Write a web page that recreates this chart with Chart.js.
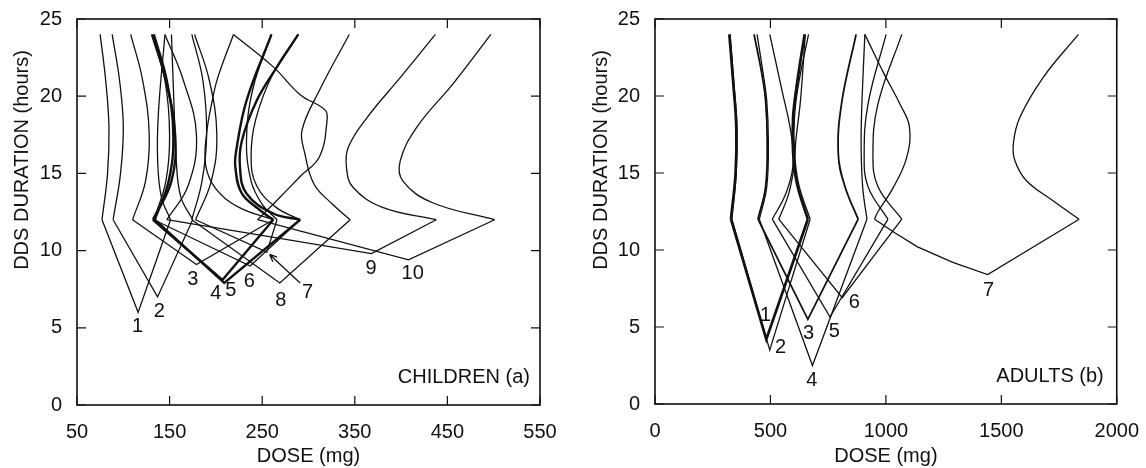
<!DOCTYPE html>
<html lang="en">
<head>
<meta charset="UTF-8" />
<title>DDS duration vs dose</title>
<script src="https://cdn.jsdelivr.net/npm/chart.js"></script>
<style>
  body { margin: 0; background: #fff; }
  #wrap { position: relative; width: 1146px; height: 468px; }
  canvas { position: absolute; top: 0; }
</style>
</head>
<body>
<div id="wrap">
  <canvas id="childChart" width="573" height="468" style="left:0"></canvas>
  <canvas id="adultChart" width="573" height="468" style="left:573px"></canvas>
</div>
<script>
// ---- children (a): each curve = upper left branch, V, upper right branch ([dose, hours])
const childNames = ["1", "2", "3", "4", "5", "6", "7", "8", "9", "10"];
const childUpperLeft = [
  [[75, 24], [81, 21], [84.5, 18], [83, 15], [77, 12]],
  [[88, 24], [96, 21], [100, 18], [97, 15], [89, 12]],
  [[108, 24], [121, 21], [128, 17.5], [124, 14.5], [110, 12]],
  [[131, 24], [146, 21], [156, 17.5], [152, 14.5], [132, 12]],
  [[133, 24], [147, 21], [154, 17.5], [149, 14.5], [134, 12]],
  [[131, 24], [145, 21], [150, 17.5], [146, 14.5], [133, 12]],
  [[177, 24], [193, 21], [201, 17.5], [195, 14.5], [178, 12]],
  [[174, 24], [186, 21], [190, 17.5], [185, 14.5], [174, 12]],
  [[145, 24], [165, 21], [179, 17.5], [170, 14.2], [147, 12]],
  [[219, 24], [262, 21.9], [291, 20.1], [318, 19.1], [320, 18.4], [312, 16.1], [291, 14.8], [265, 13.2], [245, 12]]
];
const childVee = [
  [[77, 12], [116, 6.0], [151, 12]],
  [[89, 12], [137, 7.0], [175, 12]],
  [[110, 12], [179, 9.1], [262, 12]],
  [[132, 12], [207, 8.1], [262, 12]],
  [[134, 12], [209, 7.9], [291, 12]],
  [[133, 12], [237, 9.0], [291, 12]],
  [[178, 12], [255, 9.9], [266, 12]],
  [[174, 12], [269, 7.9], [345, 12]],
  [[147, 12], [368, 9.8], [438, 12]],
  [[245, 12], [408, 9.4], [501, 12]]
];
const childUpperRight = [
  [[151, 12], [141, 13.5], [137, 16], [138, 19], [145, 24]],
  [[175, 12], [162, 13.5], [157, 16], [155, 19], [152, 24]],
  [[262, 12], [225, 12.8], [200, 14], [189, 15.5], [190, 17.6], [196, 19.7], [202, 21.2], [219, 24]],
  [[262, 12], [248, 12.6], [228, 13.7], [221, 15.4], [222, 16.5], [233, 19.7], [260, 24]],
  [[291, 12], [262, 12.4], [233, 13.7], [226, 15.4], [228, 17.1], [244, 19.7], [266, 21.9], [289, 24]],
  [[291, 12], [265, 12.8], [244, 14.2], [238, 16], [243, 18.5], [262, 21.5], [289, 24]],
  [[266, 12], [250, 13], [238, 14.5], [233, 17], [240, 20.5], [260, 24]],
  [[345, 12], [326, 13], [306, 14.3], [296, 16.3], [293, 17.8], [312, 20.4], [344, 24]],
  [[438, 12], [380, 12.8], [348, 14.1], [341, 15.4], [343, 16.7], [363, 18.6], [399, 21.2], [437, 24]],
  [[501, 12], [434, 13.1], [402, 14.5], [399, 15.8], [417, 18], [456, 20.8], [497, 24]]
];
const childLabelAt = [[115.5, 5.1], [139, 6.05], [175, 8.1], [200, 7.2], [216, 7.4],
  [236, 8.0], [299, 7.3], [270, 6.8], [367.5, 8.85], [412.5, 8.5]];
const childArrow = [[291, 7.9], [258, 9.75]];
const childXTicks = [50, 550, 100];

// ---- adults (b)
const adultNames = ["1", "2", "3", "4", "5", "6", "7"];
const adultUpperLeft = [
  [[322, 24], [338, 21], [352, 18], [349, 15], [329, 12]],
  [[325, 24], [341, 21], [355, 18], [352, 15], [333, 12]],
  [[429, 24], [462, 21.5], [479, 19.7], [486, 17.1], [479, 14.1], [446, 12]],
  [[442, 24], [468, 21.5], [484, 19.7], [491, 17.1], [484, 14.1], [452, 12]],
  [[497, 24], [548, 20.5], [590, 17.5], [597, 15.4], [565, 13.6], [508, 12]],
  [[651, 24], [630, 19.7], [610, 17.1], [602, 15.4], [578, 13.6], [536, 12]],
  [[909, 24], [990, 21.5], [1060, 19.5], [1102, 18], [1090, 16], [1030, 14], [966, 12.5], [951, 12]]
];
const adultVee = [
  [[329, 12], [482, 4.2], [662, 12]],
  [[333, 12], [497, 3.5], [672, 12]],
  [[446, 12], [662, 5.5], [880, 12]],
  [[452, 12], [682, 2.5], [918, 12]],
  [[508, 12], [758, 5.65], [1009, 12]],
  [[536, 12], [811, 6.9], [1069, 12]],
  [[951, 12], [1040, 11.1], [1137, 10.2], [1290, 9.2], [1441, 8.4], [1837, 12]]
];
const adultUpperRight = [
  [[662, 12], [615, 14.3], [598, 16.4], [598, 18.6], [615, 20.8], [648, 24]],
  [[672, 12], [622, 14.3], [604, 16.4], [604, 18.6], [622, 20.8], [665, 24]],
  [[880, 12], [823, 14.1], [794, 16.2], [808, 19.5], [871, 24]],
  [[918, 12], [900, 14], [893, 16.5], [895, 19], [909, 24]],
  [[1009, 12], [923, 14.1], [906, 16.2], [923, 19.5], [1001, 24]],
  [[1069, 12], [966, 14.1], [944, 16.2], [966, 19.5], [1069, 24]],
  [[1837, 12], [1724, 13.2], [1609, 14.5], [1559, 15.8], [1552, 16.9], [1580, 18.6], [1681, 21.2], [1834, 24]]
];
const adultLabelAt = [[479, 5.75], [544, 3.7], [665, 4.6], [679, 1.55], [777, 4.7], [863, 6.6], [1445, 7.4]];
const adultXTicks = [0, 2000, 500];

const hourTicks = [0, 25, 5];

// style: line width per curve number, 1.3 otherwise
const INK = "#111";
const FONT = "'Liberation Sans', Arial, sans-serif";
const childWidths = { 4: 2.4, 5: 2.4 };
const adultWidths = { 1: 2.7, 3: 1.8 };

function line(pts, w, tension) {
  return {
    data: pts.map(([x, y]) => ({ x, y })),
    showLine: true,
    borderColor: INK,
    borderWidth: w,
    pointRadius: 0,
    tension: tension,
    fill: false
  };
}

function buildSets(upperLeft, vee, upperRight, widths) {
  const sets = [];
  upperLeft.forEach((pts, i) => {
    const w = widths[i + 1] || 1.3;
    sets.push(line(pts, w, 0.4));
    sets.push(line(vee[i], w, 0));
    sets.push(line(upperRight[i], w, 0.4));
  });
  return sets;
}

// box, inward ticks, curve numbers, panel name, y title
const frame = {
  id: "frame",
  afterDraw(chart, args, o) {
    const { ctx, chartArea: a, scales } = chart;
    const x = scales.x, y = scales.y;
    ctx.save();
    ctx.strokeStyle = INK;
    ctx.lineWidth = 1.6;
    ctx.strokeRect(a.left, a.top, a.right - a.left, a.bottom - a.top);
    ctx.lineWidth = 1.2;
    ctx.beginPath();
    x.ticks.forEach((t) => {
      const px = x.getPixelForValue(t.value);
      ctx.moveTo(px, a.bottom); ctx.lineTo(px, a.bottom - 9);
      ctx.moveTo(px, a.top); ctx.lineTo(px, a.top + 9);
    });
    y.ticks.forEach((t) => {
      const py = y.getPixelForValue(t.value);
      ctx.moveTo(a.left, py); ctx.lineTo(a.left + 9, py);
      ctx.moveTo(a.right, py); ctx.lineTo(a.right - 9, py);
    });
    ctx.stroke();

    ctx.fillStyle = INK;
    ctx.font = "20px " + FONT;
    ctx.textAlign = "center";
    ctx.textBaseline = "middle";
    o.names.forEach((t, i) => {
      ctx.fillText(t, x.getPixelForValue(o.at[i][0]), y.getPixelForValue(o.at[i][1]));
    });

    if (o.arrow) {
      const x0 = x.getPixelForValue(o.arrow[0][0]), y0 = y.getPixelForValue(o.arrow[0][1]);
      const x1 = x.getPixelForValue(o.arrow[1][0]), y1 = y.getPixelForValue(o.arrow[1][1]);
      const ang = Math.atan2(y1 - y0, x1 - x0);
      ctx.lineWidth = 1.3;
      ctx.beginPath();
      ctx.moveTo(x0, y0); ctx.lineTo(x1, y1);
      ctx.moveTo(x1, y1); ctx.lineTo(x1 - 8 * Math.cos(ang - 0.4), y1 - 8 * Math.sin(ang - 0.4));
      ctx.moveTo(x1, y1); ctx.lineTo(x1 - 8 * Math.cos(ang + 0.4), y1 - 8 * Math.sin(ang + 0.4));
      ctx.stroke();
    }

    ctx.textAlign = "right";
    ctx.fillText(o.panel, a.right - o.panelInset, a.bottom - 28);

    ctx.translate(o.titleX, 160);
    ctx.rotate(-Math.PI / 2);
    ctx.textAlign = "center";
    ctx.fillText("DDS DURATION (hours)", 0, 0);
    ctx.restore();
  }
};

function makeChart(id, sets, xr, opts) {
  const tickFont = { family: FONT, size: 20 };
  new Chart(document.getElementById(id), {
    type: "scatter",
    data: { datasets: sets },
    options: {
      responsive: false,
      animation: false,
      layout: { padding: { left: 0, right: opts.padRight, top: 18, bottom: 0 } },
      plugins: { legend: { display: false }, tooltip: { enabled: false }, frame: opts.frame },
      scales: {
        x: {
          type: "linear", min: xr[0], max: xr[1],
          grid: { display: false }, border: { display: false },
          ticks: { stepSize: xr[2], padding: 7, color: INK, font: tickFont, callback: (v) => String(v) },
          title: { display: true, text: "DOSE (mg)", color: INK, font: tickFont, padding: { top: 0, bottom: 0 } },
          afterFit: (s) => { s.height = opts.bottom; }
        },
        y: {
          type: "linear", min: hourTicks[0], max: hourTicks[1],
          grid: { display: false }, border: { display: false },
          ticks: { stepSize: hourTicks[2], padding: 7, color: INK, font: tickFont, callback: (v) => String(v) },
          afterFit: (s) => { s.width = opts.left; }
        }
      }
    },
    plugins: [frame]
  });
}

makeChart("childChart", buildSets(childUpperLeft, childVee, childUpperRight, childWidths), childXTicks, {
  padRight: 33, bottom: 63, left: 77,
  frame: { names: childNames, at: childLabelAt, arrow: childArrow, panel: "CHILDREN (a)", panelInset: 10, titleX: 22 }
});
makeChart("adultChart", buildSets(adultUpperLeft, adultVee, adultUpperRight, adultWidths), adultXTicks, {
  padRight: 26, bottom: 64, left: 82,
  frame: { names: adultNames, at: adultLabelAt, arrow: null, panel: "ADULTS (b)", panelInset: 13, titleX: 28 }
});
</script>
</body>
</html>
